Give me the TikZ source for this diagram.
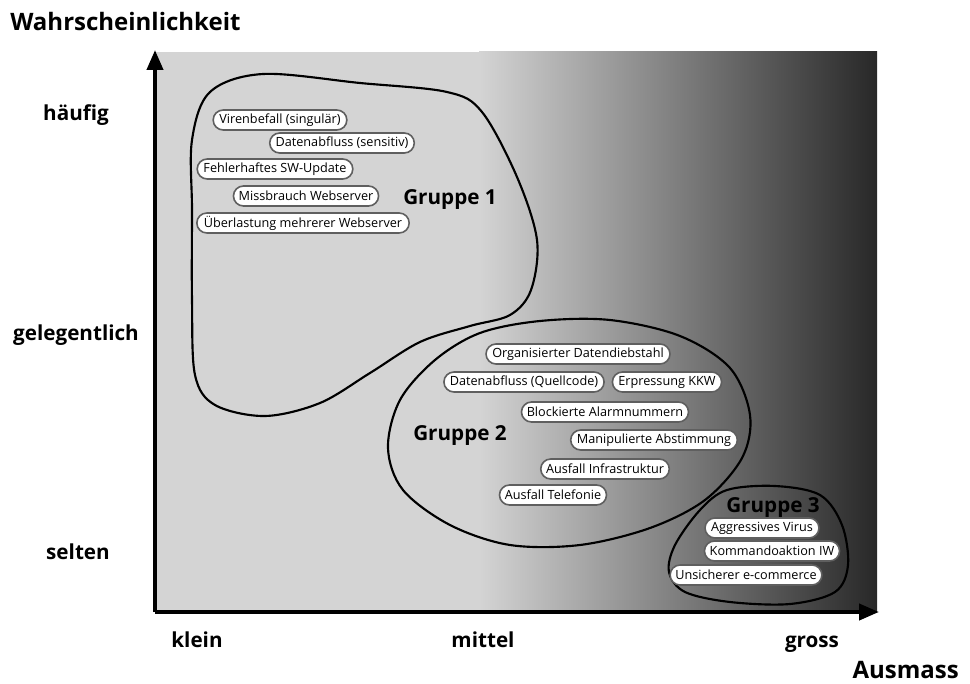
\documentclass[tikz,border=0pt]{standalone}
\usepackage{fontspec}
\setmainfont{Open Sans}
\usepackage{xcolor}
\usepackage{tikz}
\usetikzlibrary{positioning,arrows.meta,shapes.misc}
\definecolor{BgLight}{RGB}{212,212,212}
\definecolor{BgDark}{RGB}{40,40,40}
\definecolor{PillEdge}{RGB}{95,95,95}

\begin{document}
\begin{tikzpicture}[x=0.75pt,y=-0.75pt]
					\tikzset{
						pill/.style={rounded rectangle, draw=PillEdge, line width=1.2pt, fill=white,
							minimum height=15pt, inner xsep=3pt, inner ysep=1pt, font=\fontsize{9.5}{10}\selectfont},
						grp/.style={font=\fontsize{15.5}{17}\bfseries\selectfont, inner sep=0pt},
						ax/.style={font=\fontsize{15.5}{17}\bfseries\selectfont, inner sep=0pt},
						axtitle/.style={font=\fontsize{18}{20}\bfseries\selectfont, inner sep=0pt},
						blob/.style={draw=black, line width=1.6pt, smooth cycle, tension=0.55},
						axis/.style={line width=3pt, -{Triangle[length=15pt,width=12pt]}}
					}
					\useasboundingbox (0,0) rectangle (970,684);
					% background
					\fill[BgLight] (155,52) rectangle (480,612);
					\shade[left color=BgLight, right color=BgDark] (479,52) rectangle (877,612);
					
					\coordinate (O) at (155,612);
					\coordinate (ytop) at (155,50);
					\coordinate (xend) at (879,612);
					
					% groups
					\draw[blob] plot coordinates {(192,140) (210,92) (263,74) (360,83) (447,92) (482,112)
						(517,177) (537,240) (531,290) (510,315) (470,326) (420,342) (370,373) (320,403)
						(265,416) (215,405) (195,375) (192,300) (192,210)};
					\draw[blob] plot coordinates {(480,333) (540,321) (610,320) (680,336) (730,368) (750,415)
						(742,458) (705,500) (650,528) (580,545) (510,545) (450,525) (403,490) (388,448)
						(400,400) (435,360)};
					\draw[blob] plot coordinates {(727,490) (775,486) (820,495) (842,525) (848,565) (835,592)
						(790,604) (730,602) (685,592) (669,572) (675,545) (700,510)};
					
					\draw[axis] (O)--(ytop);
					\draw[axis] (O)--(xend);
					
					\node[pill] (viren) at (280,120) {Virenbefall (singulär)};
					\node[pill] (dabsens) at (342,143) {Datenabfluss (sensitiv)};
					\node[pill] (fehlsw) at (275,169) {Fehlerhaftes SW-Update};
					\node[pill] (missweb) at (306,196) {Missbrauch Webserver};
					\node[pill] (ueberweb) at (303,223) {Überlastung mehrerer Webserver};
					\node[grp] (grp1) at (450,200) {Gruppe 1};
					
					\node[pill] (orgdieb) at (578,354) {Organisierter Datendiebstahl};
					\node[pill] (dabquell) at (524,382) {Datenabfluss (Quellcode)};
					\node[pill] (erpress) at (667,382) {Erpressung KKW};
					\node[pill] (alarm) at (605,412) {Blockierte Alarmnummern};
					\node[pill] (abstimm) at (654,440) {Manipulierte Abstimmung};
					\node[pill] (infra) at (605,469) {Ausfall Infrastruktur};
					\node[pill] (telefon) at (553,495) {Ausfall Telefonie};
					\node[grp] (grp2) at (460,435) {Gruppe 2};
					
					\node[grp] (grp3) at (773,507) {Gruppe 3};
					\node[pill] (aggvir) at (762,528) {Aggressives Virus};
					\node[pill] (kommando) at (772,551) {Kommandoaktion IW};
					\node[pill] (ecom) at (746,575) {Unsicherer e-commerce};
					
					\node[axtitle, anchor=west] (wahr) at (10,22) {Wahrscheinlichkeit};
					\node[ax] (haeufig) at (76,115) {häufig};
					\node[ax] (gelegen) at (76,335) {gelegentlich};
					\node[ax] (selten) at (78,552) {selten};
					\node[ax, anchor=base] (klein) at (197,647) {klein};
					\node[ax, anchor=base] (mittel) at (483,647) {mittel};
					\node[ax, anchor=base] (gross) at (812,647) {gross};
					\node[axtitle, anchor=east] (ausmass) at (959,670) {Ausmass};
				\end{tikzpicture}
\end{document}
